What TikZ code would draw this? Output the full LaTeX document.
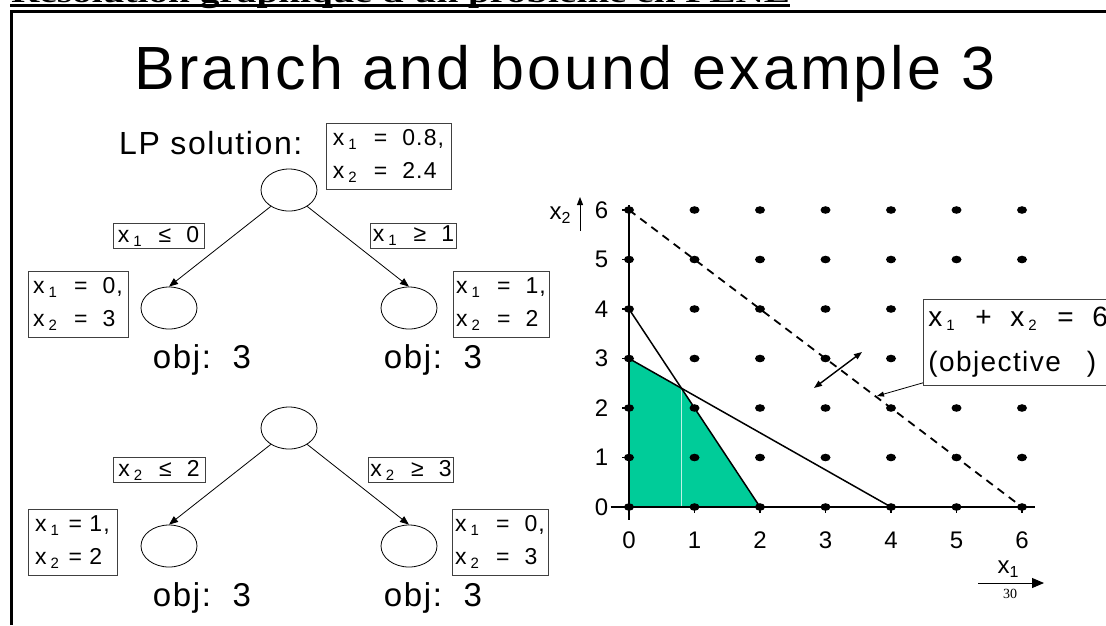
\documentclass[tikz,border=0pt]{standalone}
\usepackage{fontspec}
\usepackage{graphicx}
\setmainfont{Liberation Sans}
\newfontfamily\hdrfont{Liberation Serif}
\newfontfamily\spf{Liberation Sans}[LetterSpace=5]
\usetikzlibrary{arrows.meta,shapes.geometric}
\definecolor{feas}{RGB}{0,204,153}
\newcommand{\vx}[1]{x\kern4pt\raisebox{-4pt}{\fontsize{15}{15}\selectfont #1}\kern2pt}
\newcommand{\gapsp}{\ \ }
\tikzset{
  tnode/.style={ellipse, draw, line width=0.8pt, minimum width=56pt, minimum height=42pt, inner sep=0pt},
  solbox/.style={draw=black!75, line width=0.8pt, align=left, inner sep=2pt, font=\spf\fontsize{23}{33}\selectfont, minimum height=66pt},
  labbox/.style={draw=black!75, line width=0.8pt, inner sep=2pt, font=\spf\fontsize{23}{23}\selectfont, minimum height=25pt},
  objlab/.style={font=\spf\fontsize{33}{33}\selectfont, anchor=base, inner sep=0pt},
  arr/.style={-{Triangle[length=9pt,width=7pt]}, line width=0.8pt},
  gdot/.style={fill=black},
  axisline/.style={line width=1.6pt},
  cline/.style={line width=1.5pt},
  ticklab/.style={inner sep=0pt, font=\spf\fontsize{24}{24}\selectfont}
}
\begin{document}
\begin{tikzpicture}[x=1pt,y=-1pt]
\useasboundingbox (0,0) rectangle (1106,625);
% header (cut off at top)
\node[anchor=base west, inner sep=0pt] (hdr) at (11,2) {\hdrfont\bfseries\fontsize{28}{28}\selectfont\resizebox{779pt}{\height}{Résolution graphique d'un problème en PLNE}};
\draw[line width=2.6pt] (10,5.5) -- (790,5.5);
\draw[line width=3pt] (11.5,625) -- (11.5,11) -- (1106,11);
% title
\node[anchor=base, inner sep=0pt, font=\spf\fontsize{61}{61}\selectfont] (title) at (565,89) {Branch and bound example 3};
\node[anchor=base west, inner sep=0pt, font=\spf\fontsize{32}{32}\selectfont] (lp) at (119,154) {LP solution:};
% upper tree
\node[tnode] (r1) at (289,190) {};
\node[tnode] (c1l) at (169,308) {};
\node[tnode] (c1r) at (409,308) {};
\node[solbox, minimum width=125pt] (s1) at (388.5,156) {\vx{1}\gapsp=\gapsp0.8,\\ \vx{2}\gapsp=\gapsp2.4};
\node[labbox, minimum width=91pt] (b1l) at (158.5,236) {\vx{1}\gapsp≤\gapsp0};
\node[labbox, minimum width=77pt] (b1r) at (413.5,236) {\vx{1}\gapsp≥\gapsp1};
\node[solbox, minimum width=100pt] (s1l) at (78,304) {\vx{1}\gapsp=\gapsp0,\\ \vx{2}\gapsp=\gapsp3};
\node[solbox, minimum width=96pt] (s1r) at (501,304) {\vx{1}\gapsp=\gapsp1,\\ \vx{2}\gapsp=\gapsp2};
\node[objlab] (o1l) at (202,368) {obj:\ \ 3};
\node[objlab] (o1r) at (433,368) {obj:\ \ 3};
\draw[arr] (r1.222) -- (c1l.north);
\draw[arr] (r1.318) -- (c1r.north);
% lower tree
\node[tnode] (r2) at (289,428) {};
\node[tnode] (c2l) at (169,546) {};
\node[tnode] (c2r) at (409,546) {};
\node[labbox, minimum width=92pt] (b2l) at (159,470) {\vx{2}\gapsp≤\gapsp2};
\node[labbox, minimum width=82pt] (b2r) at (411,470) {\vx{2}\gapsp≥\gapsp3};
\node[solbox, minimum width=89pt] (s2l) at (72.5,542) {\vx{1}\ =\ 1,\\ \vx{2}\ =\ 2};
\node[solbox, minimum width=96pt] (s2r) at (500,542) {\vx{1}\gapsp=\gapsp0,\\ \vx{2}\gapsp=\gapsp3};
\node[objlab] (o2l) at (202,606) {obj:\ \ 3};
\node[objlab] (o2r) at (433,606) {obj:\ \ 3};
\draw[arr] (r2.222) -- (c2l.north);
\draw[arr] (r2.318) -- (c2r.north);
% graph
\begin{scope}[shift={(629,507)}, x=65.5pt, y=49.5pt]
  \fill[feas] (0,0) -- (0,3) -- (0.8,2.4) -- (2,0) -- cycle;
  \draw[white!75!feas, line width=0.6pt] (0.8,0) -- (0.8,2.4);
  \draw[line width=1.2pt] (-0.28,0) -- (6.2,0);
  \draw[axisline] (0,-0.26) -- (0,6.1);
  \foreach \k in {0,...,6} {
    \draw[line width=1.2pt] (\k,0) -- (\k,-0.12);
    \draw[line width=1.2pt] (0,\k) -- (-0.1,\k);
    \node[ticklab] (xl\k) at (\k,-0.67) {\k};
    \node[ticklab] (yl\k) at (-0.42,\k) {\k};
    \foreach \m in {0,...,6} {
      \fill[gdot] (\k,\m) ellipse [x radius=5pt, y radius=3.8pt];
    }
  }
  \draw[cline] (0,4) -- (2,0);
  \draw[cline] (0,3) -- (4,0);
  \draw[line width=1.8pt, dash pattern=on 8pt off 6pt] (0,6) -- (6,0);
\end{scope}
% axis labels
\node[inner sep=0pt, font=\fontsize{24}{24}\selectfont] (x2lab) at (560,215) {x\raisebox{-4pt}{\fontsize{16}{16}\selectfont 2}};
\coordinate (x2a) at (580,231);
\coordinate (x2b) at (580,197);
\draw[-{Triangle[length=8pt,width=6pt]}, line width=1pt] (x2a) -- (x2b);
\node[inner sep=0pt, font=\fontsize{24}{24}\selectfont] (x1lab) at (1008,569) {x\raisebox{-4pt}{\fontsize{16}{16}\selectfont 1}};
\coordinate (x1a) at (978,583);
\coordinate (x1b) at (1044,583);
\draw[-{Triangle[length=12pt,width=10pt]}, line width=1pt] (x1a) -- (x1b);
\node[inner sep=0pt, font=\hdrfont\fontsize{14}{14}\selectfont] (pg) at (1010,594) {30};
% objective
\coordinate (da) at (814,388);
\coordinate (db) at (862,352);
\draw[{Triangle[length=8pt,width=6pt]}-{Triangle[length=8pt,width=6pt]}, line width=1.4pt] (da) -- (db);
\node[draw=black!75, fill=white, line width=0.8pt, anchor=north west, minimum width=200pt, minimum height=86pt, inner sep=5pt, align=left, text width=200pt, font=\spf\fontsize{28}{45}\selectfont] (objbox) at (923,299) {\vx{1}\gapsp+\gapsp\vx{2}\gapsp=\gapsp6\\(objective\hspace{26pt})};
\coordinate (lead) at (877,396);
\draw[-{Triangle[length=7pt,width=5pt]}, line width=0.8pt] ([yshift=3pt]objbox.south west) -- (lead);
\end{tikzpicture}
\end{document}
